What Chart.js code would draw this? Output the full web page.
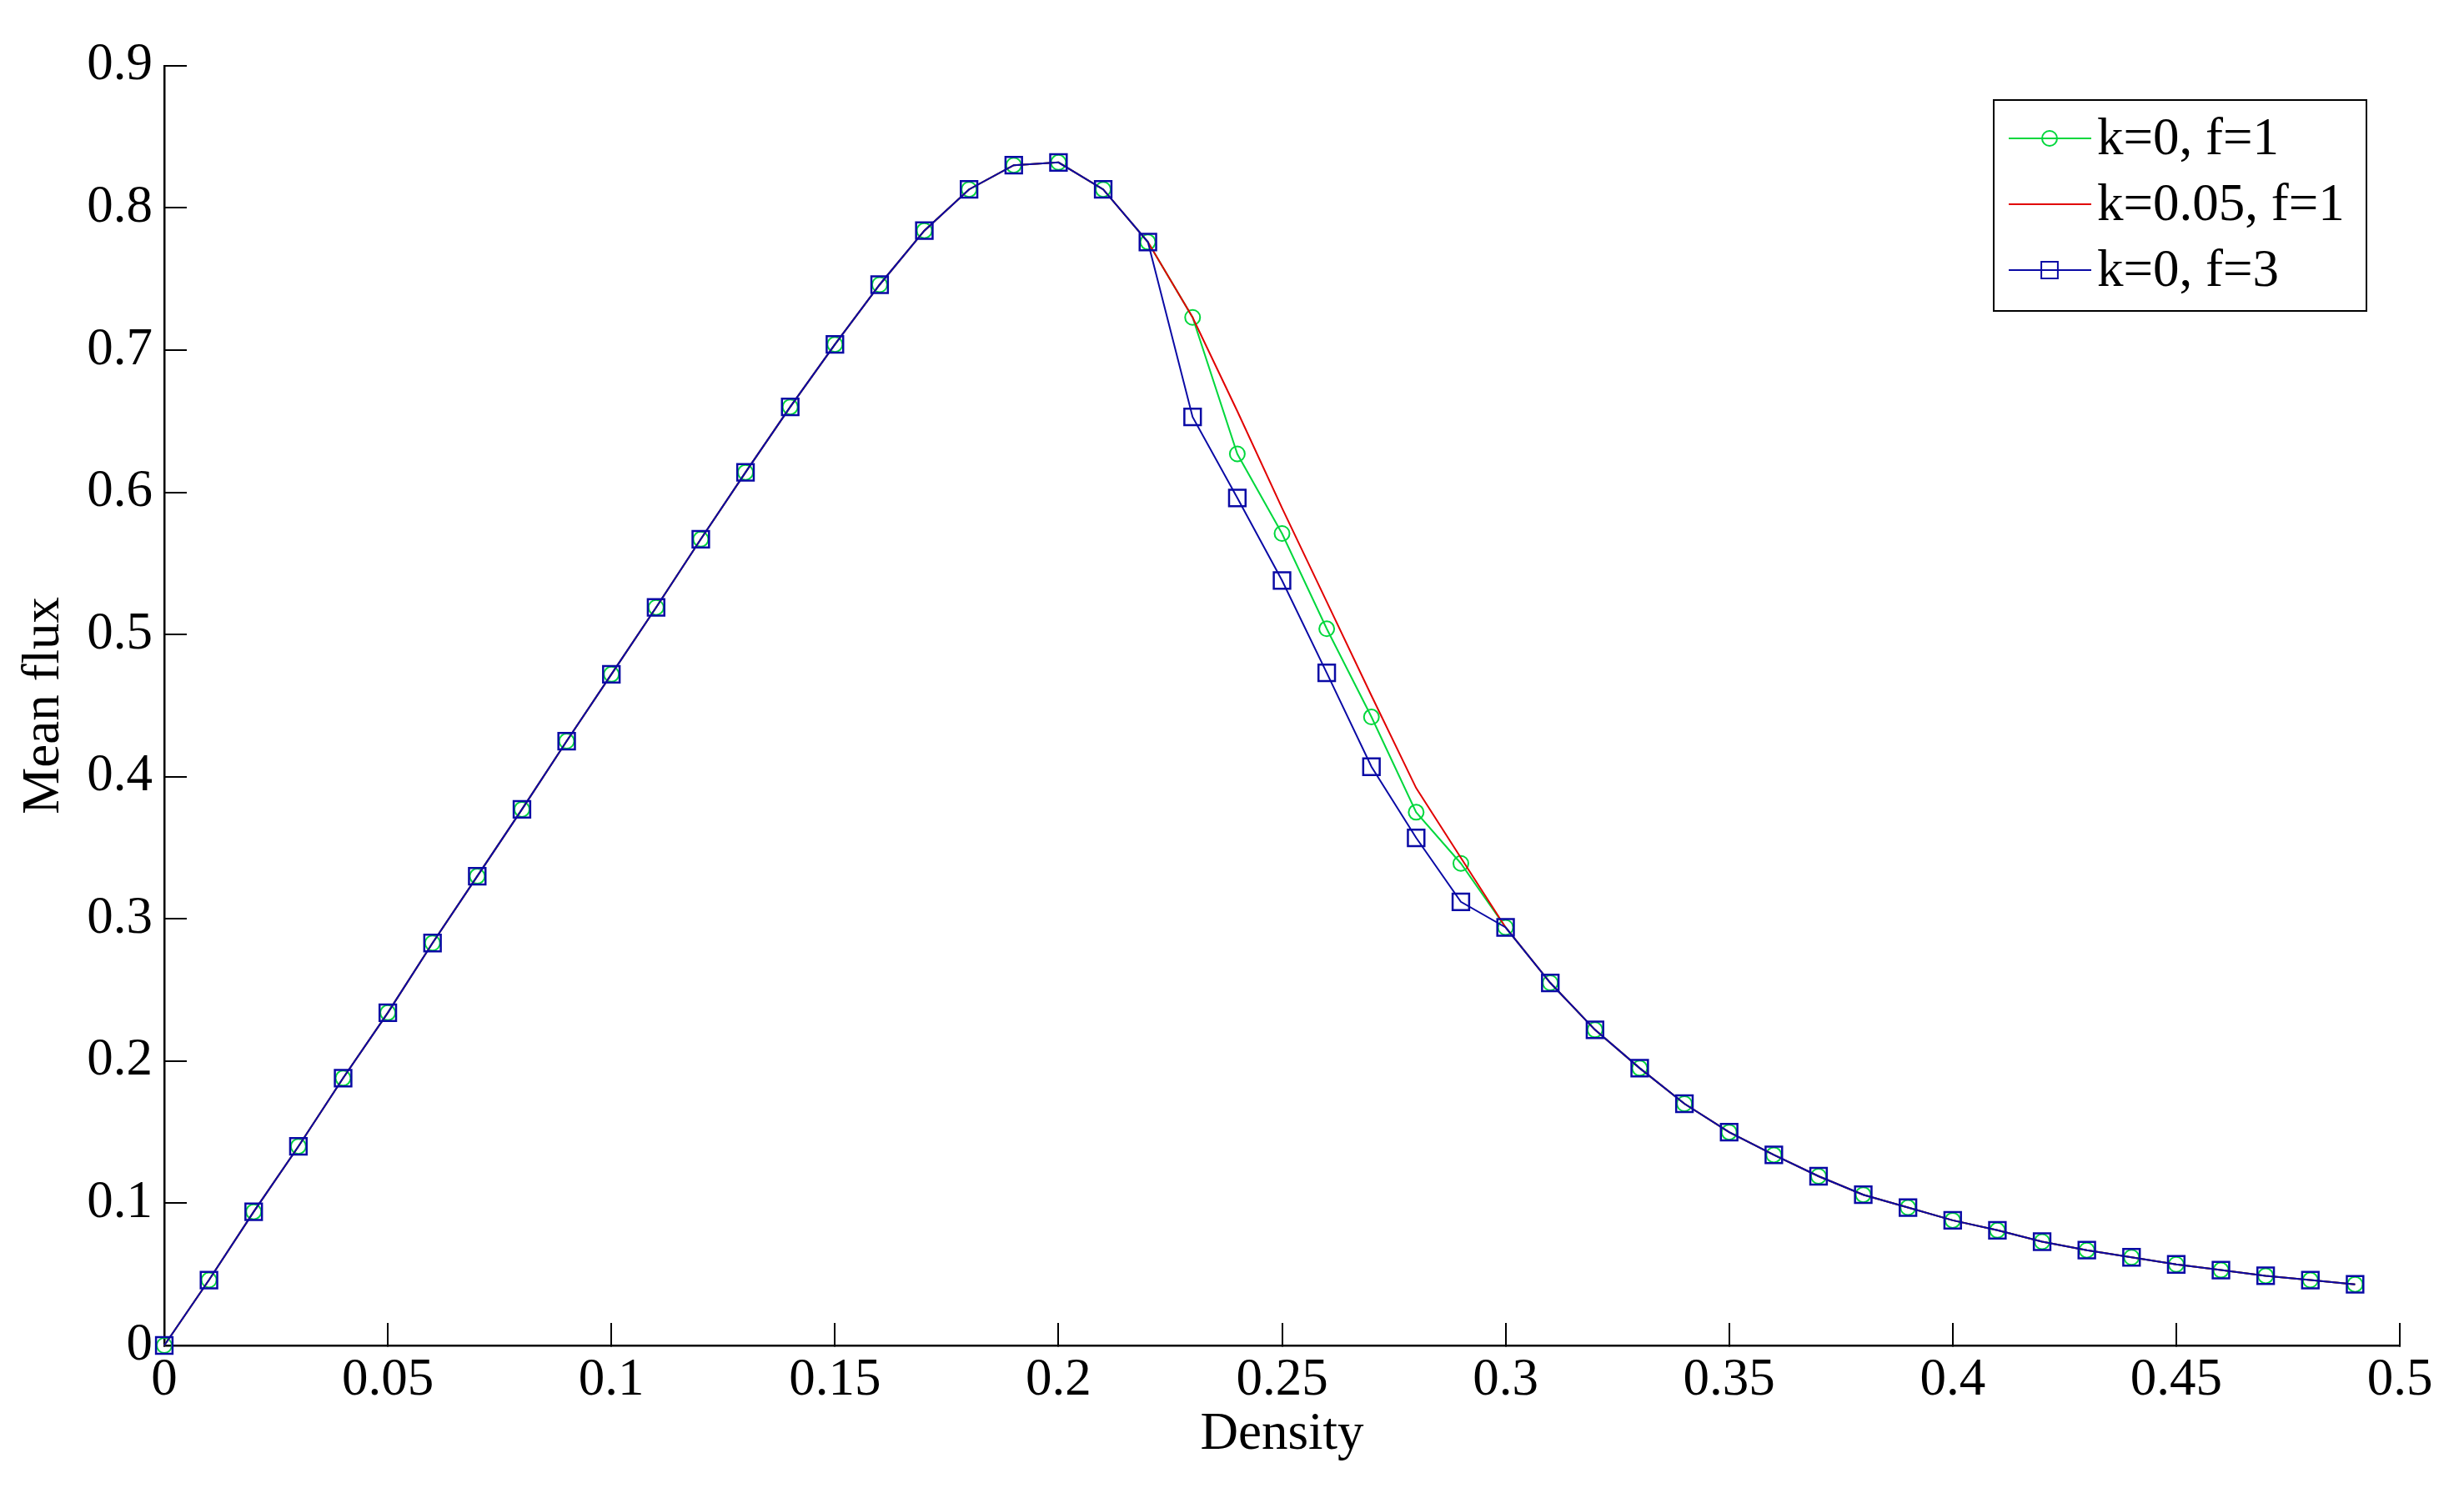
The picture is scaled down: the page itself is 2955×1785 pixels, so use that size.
<!DOCTYPE html>
<html>
<head>
<meta charset="utf-8">
<script src="https://cdn.jsdelivr.net/npm/chart.js@4.4.1/dist/chart.umd.min.js"></script>
<style>
  html, body { margin: 0; padding: 0; background: #fff; }
  #wrap { width: 2955px; height: 1785px; position: relative; }
  canvas { display: block; }
</style>
</head>
<body>
<div id="wrap"><canvas id="c" width="2955" height="1785"></canvas></div>
<script>
// ---- Data ----
const density = [0, 0.01, 0.02, 0.03, 0.04, 0.05, 0.06, 0.07, 0.08, 0.09,
                 0.10, 0.11, 0.12, 0.13, 0.14, 0.15, 0.16, 0.17, 0.18, 0.19,
                 0.20, 0.21, 0.22, 0.23, 0.24, 0.25, 0.26, 0.27, 0.28, 0.29,
                 0.30, 0.31, 0.32, 0.33, 0.34, 0.35, 0.36, 0.37, 0.38, 0.39,
                 0.40, 0.41, 0.42, 0.43, 0.44, 0.45, 0.46, 0.47, 0.48, 0.49];

// k=0, f=3 (blue squares)
const fluxK0F3 = [0, 0.046, 0.094, 0.140, 0.188, 0.234, 0.283, 0.330, 0.377, 0.425,
                  0.472, 0.519, 0.567, 0.614, 0.660, 0.704, 0.746, 0.784, 0.813, 0.830,
                  0.832, 0.813, 0.776, 0.653, 0.596, 0.538, 0.473, 0.407, 0.357, 0.312,
                  0.294, 0.255, 0.222, 0.195, 0.170, 0.150, 0.134, 0.119, 0.106, 0.097,
                  0.088, 0.081, 0.073, 0.067, 0.062, 0.057, 0.053, 0.049, 0.046, 0.043];

// k=0, f=1 (green circles)
const fluxK0F1 = [0, 0.046, 0.094, 0.140, 0.188, 0.234, 0.283, 0.330, 0.377, 0.425,
                  0.472, 0.519, 0.567, 0.614, 0.660, 0.704, 0.746, 0.784, 0.813, 0.830,
                  0.832, 0.813, 0.776, 0.723, 0.627, 0.571, 0.504, 0.442, 0.375, 0.339,
                  0.294, 0.255, 0.222, 0.195, 0.170, 0.150, 0.134, 0.119, 0.106, 0.097,
                  0.088, 0.081, 0.073, 0.067, 0.062, 0.057, 0.053, 0.049, 0.046, 0.043];

// k=0.05, f=1 (red line)
const fluxK005F1 = [0, 0.046, 0.094, 0.140, 0.188, 0.234, 0.283, 0.330, 0.377, 0.425,
                    0.472, 0.519, 0.567, 0.614, 0.660, 0.704, 0.746, 0.784, 0.813, 0.830,
                    0.832, 0.813, 0.776, 0.723, 0.657, 0.589, 0.523, 0.457, 0.392, 0.343,
                    0.294, 0.255, 0.222, 0.195, 0.170, 0.150, 0.134, 0.119, 0.106, 0.097,
                    0.088, 0.081, 0.073, 0.067, 0.062, 0.057, 0.053, 0.049, 0.046, 0.043];

const seriesLabels = ['k=0, f=1', 'k=0.05, f=1', 'k=0, f=3'];
const xTickStep = 0.05;
const yTickStep = 0.1;

const pairs = (ys) => density.map((x, i) => ({ x: x, y: ys[i] }));
const fmt = (v) => String(parseFloat(Number(v).toFixed(2)));

const FONT = "'Liberation Serif', 'Times New Roman', serif";
const GREEN = 'rgb(0,215,60)';
const RED = 'rgb(225,0,0)';
const BLUE = 'rgb(10,10,165)';

Chart.defaults.color = '#000';
Chart.defaults.font.family = FONT;

const boxLegend = {
  id: 'boxLegend',
  afterDraw(chart) {
    const ctx = chart.ctx;
    const x0 = 2391, y0 = 120, w = 447, h = 253;
    ctx.save();
    ctx.fillStyle = '#fff';
    ctx.fillRect(x0, y0, w, h);
    ctx.strokeStyle = '#000';
    ctx.lineWidth = 2;
    ctx.strokeRect(x0, y0, w, h);
    const rowY = [166, 245, 324];
    chart.data.datasets.forEach((ds, i) => {
      const y = rowY[i];
      ctx.strokeStyle = ds.borderColor;
      ctx.lineWidth = 2;
      ctx.beginPath();
      ctx.moveTo(2409, y);
      ctx.lineTo(2508, y);
      ctx.stroke();
      const cx = 2458;
      if (ds.pointRadius > 0) {
        ctx.strokeStyle = ds.pointBorderColor;
        ctx.lineWidth = 2;
        ctx.beginPath();
        if (ds.pointStyle === 'circle') {
          ctx.arc(cx, y, ds.pointRadius, 0, Math.PI * 2);
        } else {
          const s = ds.pointRadius * Math.SQRT1_2;
          ctx.rect(cx - s, y - s, 2 * s, 2 * s);
        }
        ctx.stroke();
      }
      ctx.fillStyle = '#000';
      ctx.font = '63px ' + FONT;
      ctx.textBaseline = 'middle';
      ctx.textAlign = 'left';
      ctx.fillText(ds.label, 2515, y + 2);
    });
    ctx.restore();
  }
};

new Chart(document.getElementById('c'), {
  type: 'line',
  data: {
    datasets: [
      {
        label: seriesLabels[0],
        data: pairs(fluxK0F1),
        borderColor: GREEN,
        borderWidth: 2,
        pointStyle: 'circle',
        pointRadius: 9,
        pointBorderWidth: 2,
        pointBorderColor: GREEN,
        pointBackgroundColor: 'rgba(0,0,0,0)',
        order: 3,
        clip: false
      },
      {
        label: seriesLabels[1],
        data: pairs(fluxK005F1),
        borderColor: RED,
        borderWidth: 2,
        pointRadius: 0,
        order: 2,
        clip: false
      },
      {
        label: seriesLabels[2],
        data: pairs(fluxK0F3),
        borderColor: BLUE,
        borderWidth: 2,
        pointStyle: 'rect',
        pointRadius: 14,
        pointBorderWidth: 2.5,
        pointBorderColor: BLUE,
        pointBackgroundColor: 'rgba(0,0,0,0)',
        order: 1,
        clip: false
      }
    ]
  },
  options: {
    responsive: false,
    animation: false,
    devicePixelRatio: 1,
    layout: { padding: { left: 0, top: 77, right: 77, bottom: 0 } },
    plugins: {
      legend: { display: false },
      tooltip: { enabled: false },
      title: { display: false }
    },
    elements: { line: { tension: 0 } },
    scales: {
      x: {
        type: 'linear',
        min: 0,
        max: 0.5,
        ticks: {
          stepSize: xTickStep,
          font: { family: FONT, size: 63 },
          color: '#000',
          padding: 32,
          maxRotation: 0,
          autoSkip: false,
          callback: (v) => fmt(v)
        },
        grid: {
          display: true,
          drawOnChartArea: false,
          drawTicks: true,
          tickLength: -27,
          color: '#000',
          lineWidth: 2
        },
        border: { display: true, color: '#000', width: 2.5 },
        title: {
          display: true,
          text: 'Density',
          font: { family: FONT, size: 63 },
          color: '#000',
          padding: { top: 0, bottom: 26 }
        },
        afterFit(scale) { scale.height = 171; }
      },
      y: {
        type: 'linear',
        min: 0,
        max: 0.9,
        ticks: {
          stepSize: yTickStep,
          font: { family: FONT, size: 63 },
          color: '#000',
          padding: 41,
          autoSkip: false,
          callback: (v) => fmt(v)
        },
        grid: {
          display: true,
          drawOnChartArea: false,
          drawTicks: true,
          tickLength: -27,
          color: '#000',
          lineWidth: 2
        },
        border: { display: true, color: '#000', width: 2.5 },
        title: {
          display: true,
          text: 'Mean flux',
          font: { family: FONT, size: 63 },
          color: '#000',
          padding: { top: 16, bottom: 0 }
        },
        afterFit(scale) { scale.width = 197; }
      }
    }
  },
  plugins: [boxLegend]
});
</script>
</body>
</html>
